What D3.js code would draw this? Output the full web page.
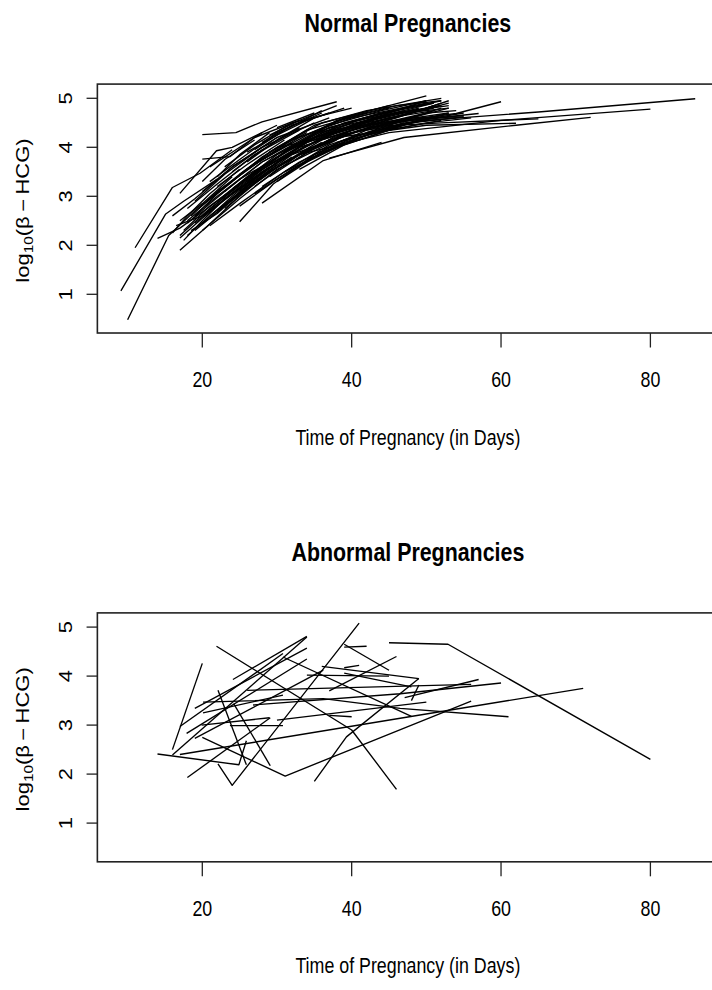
<!DOCTYPE html>
<html>
<head>
<meta charset="utf-8">
<script src="https://cdn.jsdelivr.net/npm/d3@7"></script>
<style>
  html, body { margin: 0; padding: 0; background: #fff; }
  svg { display: block; }
  text { font-family: "Liberation Sans", Arial, Helvetica, sans-serif; fill: #000; }
</style>
</head>
<body>
<svg id="chart" width="712" height="990"></svg>
<script>
// ---- data: each subject is a list of [day, log10(beta-HCG)] observations ----
const normalSubjects = [
  [[10.0,0.48],[15.5,2.2],[19,2.7],[24,3.3]],
  [[9.1,1.07],[15.1,2.64],[17.5,2.9],[22,3.35]],
  [[11.0,1.95],[16.0,3.18],[19.7,3.47],[24,3.95]],
  [[20.0,4.26],[24.5,4.30],[28,4.52],[38,4.93]],
  [[20,3.76],[23.7,3.81],[27,4.2],[33,4.55]],
  [[17,1.9],[20.6,2.38],[26,3.15],[31,3.7]],
  [[14.0,2.14],[17,2.35],[22,2.9],[27,3.5]],
  [[25,2.48],[29.5,3.25],[35,3.85]],
  [[28,2.86],[36.2,3.73],[44,4.1]],
  [[17,3.06],[21.9,3.93],[24,4.0],[30,4.45]],
  [[16,2.6],[19,2.95],[24,3.6],[30,4.2]],
  [[17,2.2],[21,2.75],[27,3.45],[33,4.0]],
  [[16.5,2.4],[20,2.6],[25,3.15],[31,3.8]],
  [[18,2.5],[22,3.0],[28,3.7],[35,4.25]],
  [[19,2.3],[23,2.8],[29,3.5],[36,4.1]],
  [[20,2.3],[25,2.95],[30,3.55],[38,4.15]],
  [[21,2.55],[26,3.2],[32,3.85],[40,4.3]],
  [[22,2.7],[27,3.35],[33,4.0],[41,4.4]],
  [[18,2.75],[22,3.25],[27,3.85],[33,4.35]],
  [[19,2.9],[23,3.45],[28,4.0],[35,4.5]],
  [[20,3.1],[24,3.6],[30,4.2],[37,4.6]],
  [[21,3.3],[25,3.75],[30,4.3],[36,4.7]],
  [[23,3.6],[27,4.05],[32,4.5],[40,4.8]],
  [[24,3.3],[28,3.8],[34,4.35],[42,4.7]],
  [[23,3.0],[28,3.6],[34,4.15],[43,4.55]],
  [[25,3.1],[30,3.7],[36,4.2],[45,4.6]],
  [[26,3.3],[31,3.9],[38,4.4],[47,4.75]],
  [[27,3.5],[32,4.0],[39,4.5],[48,4.85]],
  [[28,3.75],[33,4.2],[40,4.65],[50,5.05]],
  [[29,3.9],[35,4.45],[42,4.75],[52,5.0]],
  [[30,3.6],[36,4.15],[44,4.55],[53,4.9]],
  [[31,3.5],[37,4.05],[45,4.45],[52,4.8]],
  [[32,3.7],[38,4.25],[46,4.6],[51,4.85]],
  [[30,3.3],[35,3.8],[42,4.25],[50,4.6]],
  [[33,3.55],[39,4.05],[47,4.45],[53,4.7]],
  [[34,3.9],[40,4.35],[48,4.7],[52,4.9]],
  [[35,4.1],[41,4.5],[49,4.8]],
  [[36,4.2],[42,4.55],[50,4.95]],
  [[22,3.2],[26,3.65],[31,4.15]],
  [[24,3.5],[28,3.95],[33,4.4]],
  [[26,3.7],[30,4.15],[35,4.6]],
  [[27,3.95],[31,4.35],[36,4.75]],
  [[18,2.45],[21,2.85],[25,3.35],[29,3.7]],
  [[19,2.6],[22,3.05],[26,3.55],[30,3.95]],
  [[20,2.45],[24,3.0],[28,3.5],[33,3.95]],
  [[21,2.95],[25,3.45],[29,3.9],[34,4.3]],
  [[17,2.5],[20,2.85],[24,3.4]],
  [[16,2.25],[18,2.6],[21,3.05],[25,3.55]],
  [[17.5,2.1],[20,2.5],[23,2.95],[28,3.55]],
  [[18.5,2.3],[22,2.65],[26,3.2],[30,3.65]],
  [[23,2.75],[27,3.25],[31,3.7],[37,4.15]],
  [[24,2.95],[29,3.5],[34,3.95],[40,4.35]],
  [[25,2.8],[30,3.35],[36,3.9],[43,4.3]],
  [[27,3.05],[32,3.55],[38,4.0],[46,4.4]],
  [[28,3.2],[33,3.7],[39,4.15],[47,4.5]],
  [[29,3.4],[34,3.9],[40,4.3],[48,4.6]],
  [[31,3.8],[36,4.3],[43,4.65],[51,4.9]],
  [[32,4.0],[37,4.45],[44,4.75],[50,4.95]],
  [[33,4.1],[38,4.55],[45,4.8]],
  [[34,4.25],[39,4.6],[46,4.85],[52,4.95]],
  [[26,3.9],[30,4.25],[34,4.55],[39,4.8]],
  [[28,4.1],[32,4.45],[37,4.7]],
  [[29,4.25],[33,4.55],[38,4.85]],
  [[30,4.4],[35,4.7]],
  [[20,3.3],[23,3.75],[27,4.15]],
  [[22,3.4],[25,3.85],[29,4.3]],
  [[35,3.85],[41,4.25],[48,4.5],[55,4.62]],
  [[36,3.95],[42,4.35],[49,4.6]],
  [[38,4.2],[44,4.45],[52,4.65]],
  [[39,4.35],[45,4.6],[51,4.75]],
  [[40,4.45],[46,4.7],[52,4.85]],
  [[41,4.55],[47,4.75],[51,4.9]],
  [[37,4.0],[43,4.3],[50,4.5],[56,4.6]],
  [[38,4.1],[45,4.35],[52,4.55]],
  [[17,2.15],[20,2.55],[24,3.05],[29,3.6]],
  [[17.5,2.3],[21,2.8],[25,3.25],[30,3.8]],
  [[18,2.2],[21,2.6],[26,3.2],[32,3.8]],
  [[18.5,2.6],[22,3.1],[27,3.65],[32,4.1]],
  [[19,2.45],[23,2.95],[28,3.5],[34,4.05]],
  [[19.5,2.75],[23,3.2],[28,3.75],[34,4.25]],
  [[20,2.6],[25,3.25],[31,3.9],[38,4.35]],
  [[21,2.4],[25,2.85],[31,3.5],[39,4.1]],
  [[22,2.9],[26,3.4],[32,4.0],[40,4.5]],
  [[23,3.1],[28,3.7],[35,4.3],[44,4.7]],
  [[24,3.15],[30,3.85],[37,4.4],[46,4.75]],
  [[25,3.45],[30,4.0],[36,4.5],[45,4.85]],
  [[26,3.55],[32,4.15],[40,4.6],[50,4.9]],
  [[27,3.2],[33,3.85],[41,4.35],[49,4.65]],
  [[28,3.55],[34,4.1],[42,4.5],[51,4.8]],
  [[29,3.65],[35,4.2],[43,4.6],[52,4.85]],
  [[31,3.95],[37,4.4],[44,4.7],[52,4.95]],
  [[32,3.85],[38,4.35],[46,4.7],[53,4.85]],
  [[33,3.95],[40,4.45],[47,4.7],[53,4.8]],
  [[34,3.75],[41,4.2],[49,4.55],[55,4.7]],
  [[36,4.05],[43,4.45],[50,4.7],[54,4.75]],
  [[39,4.25],[46,4.55],[53,4.7]],
  [[40,4.2],[47,4.5],[54,4.6]],
  [[42,4.3],[49,4.55],[55,4.65]],
  [[43,4.4],[48,4.6],[53,4.8]],
  [[44,4.55],[50,4.8],[53,4.95]],
  [[21,3.6],[24,3.9],[28,4.3]],
  [[30,4.0],[40,4.3],[50,4.55],[65,4.72],[86,4.99]],
  [[33,3.85],[45,4.3],[60,4.55],[80,4.78]],
  [[37,3.78],[47,4.2],[62,4.45],[72,4.61]],
  [[42,4.45],[54,4.69],[60,4.93]],
  [[45,4.5],[57,4.69]],
  [[40,4.4],[52,4.5],[65,4.58]],
  [[38,4.2],[50,4.45],[62,4.49]],
  [[35,4.3],[48,4.6],[55,4.62]]
];

const abnormalSubjects = [
  [[16,2.5],[20,4.26]],
  [[14,2.41],[24.9,2.19],[25.9,2.68]],
  [[22.1,2.21],[24,1.77],[41,5.08]],
  [[18,1.93],[29.1,3.15]],
  [[21.9,4.61],[40,2.9],[46,1.69]],
  [[20,2.75],[31.1,1.96],[56,3.49]],
  [[35,1.85],[39.3,2.76],[49,3.95]],
  [[39,4.59],[42,4.61]],
  [[45,4.68],[52.9,4.65],[80,2.30]],
  [[39,4.65],[45,4.12]],
  [[37,3.7],[46,4.4]],
  [[39,4.17],[41,4.22]],
  [[39,4.06],[48,3.78]],
  [[34,4.02],[45,4.0]],
  [[26,3.71],[56,3.83]],
  [[47.1,3.56],[57,3.93]],
  [[20.1,3.47],[36.2,3.54],[46.5,3.34],[61,3.17]],
  [[26.8,3.41],[46.5,3.64],[60,3.86]],
  [[17,2.4],[46.5,3.14],[71,3.75]],
  [[30.8,4.39],[48,3.18]],
  [[16,2.39],[34,4.8]],
  [[17,2.97],[30.8,4.46]],
  [[24.1,3.93],[34,4.81]],
  [[19,3.34],[34,4.57]],
  [[17.9,2.83],[34,4.35]],
  [[19,2.73],[36.2,4.12]],
  [[20.1,3.25],[30.8,3.61]],
  [[23.7,2.99],[30.8,2.99]],
  [[19.9,3.0],[29,3.15]],
  [[22.1,3.71],[25.9,2.19]],
  [[24.2,3.44],[29.1,2.17]],
  [[30,3.1],[50,3.47]],
  [[36,4.2],[49,3.95]],
  [[48,3.5],[49,3.82]],
  [[37,3.2],[40,3.17]]
];

const xTicks = [20, 40, 60, 80];
const yTicks = [1, 2, 3, 4, 5];
const xLimits = [5.95, 89.1];
const yLimits = [0.21, 5.29];
const panelTitles = ["Normal Pregnancies", "Abnormal Pregnancies"];
const xAxisTitle = "Time of Pregnancy (in Days)";

// ---- drawing ----
const svg = d3.select("#chart");
const SX = 0.81;          // horizontal squeeze of the original device
const FS = 22;            // base font size

function drawPanel(subjects, title, offsetY) {
  const x = d3.scaleLinear().domain([20, 80]).range([202.3, 650.4]);
  const y = d3.scaleLinear().domain([1, 5]).range([294.3 + offsetY, 98.3 + offsetY]);
  const g = svg.append("g");

  const left = x(xLimits[0]), right = x(xLimits[1]);
  const top = y(yLimits[1]), bottom = y(yLimits[0]);

  // data lines
  const line = d3.line().x(d => x(d[0])).y(d => y(d[1]));
  g.append("g")
    .selectAll("path")
    .data(subjects)
    .join("path")
    .attr("d", line)
    .attr("fill", "none")
    .attr("stroke", "#000")
    .attr("stroke-width", 1.35)
    .attr("stroke-linejoin", "round");

  // box
  g.append("rect")
    .attr("x", left).attr("y", top)
    .attr("width", right - left).attr("height", bottom - top)
    .attr("fill", "none").attr("stroke", "#222").attr("stroke-width", 1.6);

  // x axis ticks
  const xa = g.append("g");
  xa.selectAll("line").data(xTicks).join("line")
    .attr("x1", d => x(d)).attr("x2", d => x(d))
    .attr("y1", bottom).attr("y2", bottom + 14.5)
    .attr("stroke", "#222").attr("stroke-width", 1.3);
  xa.selectAll("text").data(xTicks).join("text")
    .attr("transform", d => `translate(${x(d)},${387 + offsetY}) scale(${SX},1)`)
    .attr("text-anchor", "middle")
    .attr("font-size", FS)
    .text(d => d);

  // y axis ticks
  const ya = g.append("g");
  ya.selectAll("line").data(yTicks).join("line")
    .attr("x1", left).attr("x2", left - 10.8)
    .attr("y1", d => y(d)).attr("y2", d => y(d))
    .attr("stroke", "#222").attr("stroke-width", 1.3);
  ya.selectAll("text").data(yTicks).join("text")
    .attr("transform", d => `translate(71.5,${y(d)}) rotate(-90) scale(1,${SX})`)
    .attr("text-anchor", "middle")
    .attr("font-size", FS)
    .text(d => d);

  // title
  const cx = (left + right) / 2;
  g.append("text")
    .attr("transform", `translate(${cx},${32 + offsetY}) scale(${SX},1)`)
    .attr("text-anchor", "middle")
    .attr("font-size", 26.4)
    .attr("font-weight", "bold")
    .text(title);

  // x axis title
  g.append("text")
    .attr("transform", `translate(${cx},${444.5 + offsetY}) scale(${SX},1)`)
    .attr("text-anchor", "middle")
    .attr("font-size", FS)
    .text(xAxisTitle);

  // y axis title: log10(β − HCG)
  const yl = g.append("text")
    .attr("transform", `translate(28.5,${(top + bottom) / 2 + 2}) rotate(-90) scale(1,${SX})`)
    .attr("text-anchor", "middle")
    .attr("font-size", FS);
  yl.append("tspan").text("log");
  yl.append("tspan").attr("font-size", 15.4).attr("dy", 5).text("10");
  yl.append("tspan").attr("dy", -5).text("(β\u2009\u2212\u2009HCG)");
}

drawPanel(normalSubjects, panelTitles[0], 0);
drawPanel(abnormalSubjects, panelTitles[1], 528.8);
</script>
</body>
</html>
